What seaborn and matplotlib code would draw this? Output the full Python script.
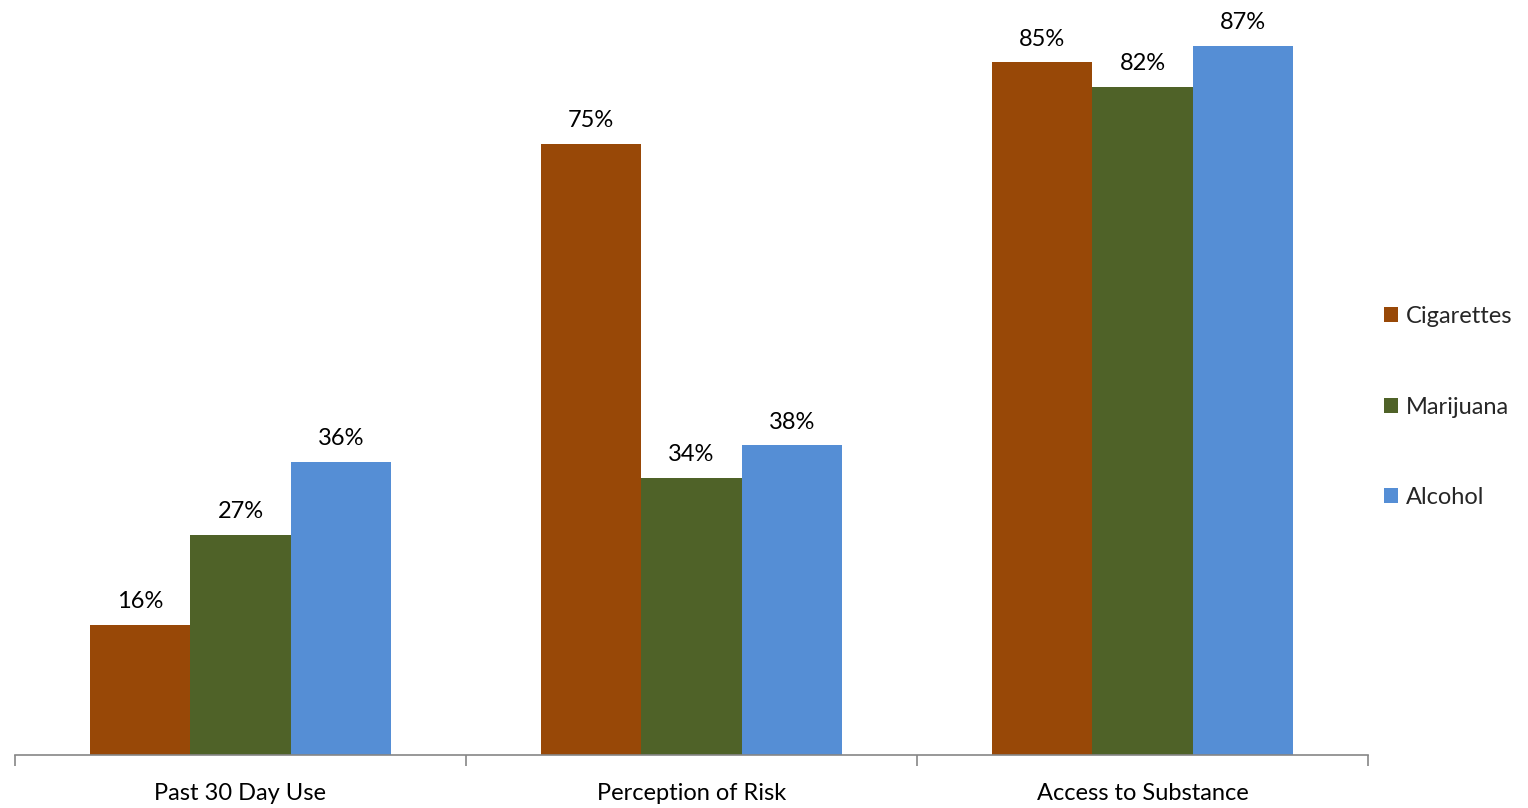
import matplotlib
matplotlib.use("Agg")
import matplotlib.pyplot as plt
import seaborn as sns
import pandas as pd

categories = ["Past 30 Day Use", "Perception of Risk", "Access to Substance"]
cigarettes = [0.16, 0.75, 0.85]
marijuana = [0.27, 0.34, 0.82]
alcohol = [0.36, 0.38, 0.87]
series_names = ["Cigarettes", "Marijuana", "Alcohol"]
colors = ["#984807", "#4F6228", "#558ED5"]

rows = []
for name, vals in zip(series_names, [cigarettes, marijuana, alcohol]):
    for c, v in zip(categories, vals):
        rows.append({"Category": c, "Substance": name, "Value": v})
df = pd.DataFrame(rows)

sns.set_theme(style="white")
plt.rcParams['font.family'] = ['Lato', 'DejaVu Sans']

fig = plt.figure(figsize=(15.28, 8.08), dpi=100)
ax = fig.add_axes([15/1528, 1-755/808, (1368-15)/1528, 733.5/808])

sns.barplot(data=df, x="Category", y="Value", hue="Substance",
            order=categories, hue_order=series_names,
            palette=colors, width=0.667, saturation=1, ax=ax,
            legend=True, linewidth=0, errorbar=None)

for cont in ax.containers:
    ax.bar_label(cont, labels=[f"{v*100:.0f}%" for v in cont.datavalues],
                 padding=9, fontsize=17, color="black")

ax.set_xlim(-0.5, 2.5)
ax.set_ylim(0, 0.9)
ax.set_xlabel("")
ax.set_ylabel("")
ax.set_yticks([])
for s in ["top", "right", "left"]:
    ax.spines[s].set_visible(False)
ax.spines["bottom"].set_color("#868686")
ax.spines["bottom"].set_linewidth(1.2)

ax.set_xticks([-0.5, 0.5, 1.5, 2.5])
ax.set_xticklabels([])
ax.tick_params(axis="x", which="major", bottom=True, length=8, width=1.2, color="#868686")
ax.set_xticks([0, 1, 2], minor=True)
ax.set_xticklabels(categories, minor=True, fontsize=17, color="black")
ax.tick_params(axis="x", which="minor", bottom=True, length=0, pad=20)

ax.legend(loc="center left", bbox_to_anchor=(1368/1528 + 0.0045, 1 - 407/808), bbox_transform=fig.transFigure,
          frameon=False, fontsize=17, handlelength=0.6, handleheight=0.6,
          handletextpad=0.3, labelspacing=2.95, borderaxespad=0)

fig.savefig("out.png", dpi=100)
